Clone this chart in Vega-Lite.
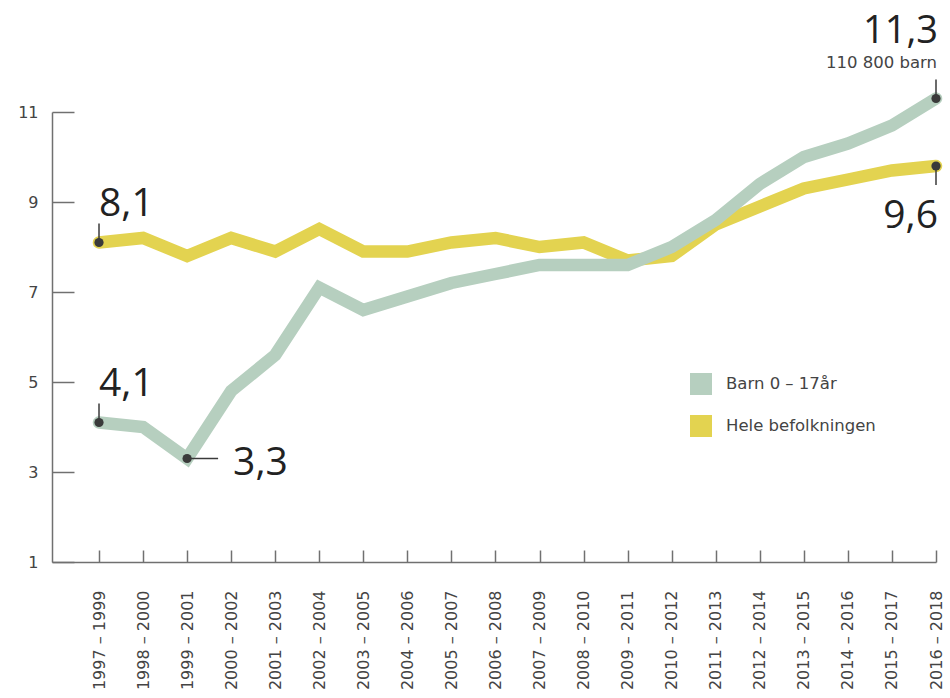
{
  "$schema": "https://vega.github.io/schema/vega-lite/v6.json",
  "width": 884,
  "height": 450,
  "autosize": {"type": "none"},
  "padding": {"left": 52, "top": 112, "right": 14, "bottom": 136},
  "background": "#ffffff",
  "config": {
    "view": {"stroke": null},
    "axis": {
      "domainColor": "#707070",
      "domainWidth": 1.5,
      "tickColor": "#707070",
      "tickWidth": 1.5,
      "grid": false,
      "labelColor": "#444444",
      "labelFont": "DejaVu Sans",
      "labelFontSize": 16,
      "title": null
    },
    "legend": {
      "labelFont": "DejaVu Sans",
      "labelFontSize": 16.5,
      "labelColor": "#444444"
    }
  },
  "datasets": {
    "series": [
      {"period": "1997 – 1999", "serie": "Barn 0 – 17år", "value": 4.1},
      {"period": "1998 – 2000", "serie": "Barn 0 – 17år", "value": 4.0},
      {"period": "1999 – 2001", "serie": "Barn 0 – 17år", "value": 3.3},
      {"period": "2000 – 2002", "serie": "Barn 0 – 17år", "value": 4.8},
      {"period": "2001 – 2003", "serie": "Barn 0 – 17år", "value": 5.6},
      {"period": "2002 – 2004", "serie": "Barn 0 – 17år", "value": 7.1},
      {"period": "2003 – 2005", "serie": "Barn 0 – 17år", "value": 6.6},
      {"period": "2004 – 2006", "serie": "Barn 0 – 17år", "value": 6.9},
      {"period": "2005 – 2007", "serie": "Barn 0 – 17år", "value": 7.2},
      {"period": "2006 – 2008", "serie": "Barn 0 – 17år", "value": 7.4},
      {"period": "2007 – 2009", "serie": "Barn 0 – 17år", "value": 7.6},
      {"period": "2008 – 2010", "serie": "Barn 0 – 17år", "value": 7.6},
      {"period": "2009 – 2011", "serie": "Barn 0 – 17år", "value": 7.6},
      {"period": "2010 – 2012", "serie": "Barn 0 – 17år", "value": 8.0},
      {"period": "2011 – 2013", "serie": "Barn 0 – 17år", "value": 8.6},
      {"period": "2012 – 2014", "serie": "Barn 0 – 17år", "value": 9.4},
      {"period": "2013 – 2015", "serie": "Barn 0 – 17år", "value": 10.0},
      {"period": "2014 – 2016", "serie": "Barn 0 – 17år", "value": 10.3},
      {"period": "2015 – 2017", "serie": "Barn 0 – 17år", "value": 10.7},
      {"period": "2016 – 2018", "serie": "Barn 0 – 17år", "value": 11.3},
      {"period": "1997 – 1999", "serie": "Hele befolkningen", "value": 8.1},
      {"period": "1998 – 2000", "serie": "Hele befolkningen", "value": 8.2},
      {"period": "1999 – 2001", "serie": "Hele befolkningen", "value": 7.8},
      {"period": "2000 – 2002", "serie": "Hele befolkningen", "value": 8.2},
      {"period": "2001 – 2003", "serie": "Hele befolkningen", "value": 7.9},
      {"period": "2002 – 2004", "serie": "Hele befolkningen", "value": 8.4},
      {"period": "2003 – 2005", "serie": "Hele befolkningen", "value": 7.9},
      {"period": "2004 – 2006", "serie": "Hele befolkningen", "value": 7.9},
      {"period": "2005 – 2007", "serie": "Hele befolkningen", "value": 8.1},
      {"period": "2006 – 2008", "serie": "Hele befolkningen", "value": 8.2},
      {"period": "2007 – 2009", "serie": "Hele befolkningen", "value": 8.0},
      {"period": "2008 – 2010", "serie": "Hele befolkningen", "value": 8.1},
      {"period": "2009 – 2011", "serie": "Hele befolkningen", "value": 7.7},
      {"period": "2010 – 2012", "serie": "Hele befolkningen", "value": 7.8},
      {"period": "2011 – 2013", "serie": "Hele befolkningen", "value": 8.5},
      {"period": "2012 – 2014", "serie": "Hele befolkningen", "value": 8.9},
      {"period": "2013 – 2015", "serie": "Hele befolkningen", "value": 9.3},
      {"period": "2014 – 2016", "serie": "Hele befolkningen", "value": 9.5},
      {"period": "2015 – 2017", "serie": "Hele befolkningen", "value": 9.7},
      {"period": "2016 – 2018", "serie": "Hele befolkningen", "value": 9.8}
    ],
    "notes": [
      {"period": "1997 – 1999", "value": 8.1, "label": "8,1", "dir": "up", "pos": "a"},
      {"period": "1997 – 1999", "value": 4.1, "label": "4,1", "dir": "up", "pos": "a"},
      {"period": "1999 – 2001", "value": 3.3, "label": "3,3", "dir": "right", "pos": "r"},
      {"period": "2016 – 2018", "value": 11.3, "label": "11,3", "dir": "up", "pos": "t", "sub": "110 800 barn"},
      {"period": "2016 – 2018", "value": 9.8, "label": "9,6", "dir": "down", "pos": "b"}
    ]
  },
  "encoding": {
    "x": {
      "field": "period",
      "type": "ordinal",
      "scale": {"type": "point", "padding": 0.5335, "align": 1},
      "axis": {
        "labelAngle": -90,
        "tickSize": -12,
        "labelPadding": 40
      }
    },
    "y": {
      "field": "value",
      "type": "quantitative",
      "scale": {"domain": [1, 11], "nice": false, "zero": false},
      "axis": {
        "values": [1, 3, 5, 7, 9, 11],
        "tickSize": -22,
        "labelPadding": 36
      }
    }
  },
  "layer": [
    {
      "data": {"name": "series"},
      "transform": [{"filter": "datum.serie === 'Hele befolkningen'"}],
      "mark": {"type": "line", "strokeWidth": 12.5, "strokeJoin": "miter", "strokeCap": "round"},
      "encoding": {
        "color": {
          "field": "serie",
          "type": "nominal",
          "scale": {"domain": ["Barn 0 – 17år", "Hele befolkningen"], "range": ["#b6cfbf", "#e3d350"]},
          "legend": {
            "orient": "none",
            "legendX": 638,
            "legendY": 261,
            "title": null,
            "padding": 0,
            "symbolType": "square",
            "symbolSize": 121,
            "symbolStrokeWidth": 11,
            "symbolOpacity": 1,
            "labelOffset": 14,
            "rowPadding": -14
          }
        }
      }
    },
    {
      "data": {"name": "series"},
      "transform": [{"filter": "datum.serie === 'Barn 0 – 17år'"}],
      "mark": {"type": "line", "strokeWidth": 12.5, "strokeJoin": "miter", "strokeCap": "round"},
      "encoding": {
        "color": {"field": "serie", "type": "nominal"}
      }
    },
    {
      "data": {"name": "notes"},
      "mark": {"type": "point", "filled": false, "size": 4, "stroke": "#3a3a3a", "strokeWidth": 1.5, "opacity": 1},
      "encoding": {
        "shape": {
          "field": "dir",
          "type": "nominal",
          "scale": {"domain": ["up", "down", "right"], "range": ["M0,0L0,-19", "M0,0L0,19", "M0,0L31,0"]},
          "legend": null
        }
      }
    },
    {
      "data": {"name": "notes"},
      "mark": {"type": "circle", "size": 85, "color": "#3a3a3a", "opacity": 1}
    },
    {
      "data": {"name": "notes"},
      "transform": [{"filter": "datum.pos === 'a'"}],
      "mark": {"type": "text", "align": "left", "baseline": "alphabetic", "dx": 0, "dy": -27, "font": "Open Sans", "fontSize": 39, "color": "#222222"},
      "encoding": {"text": {"field": "label"}}
    },
    {
      "data": {"name": "notes"},
      "transform": [{"filter": "datum.pos === 'r'"}],
      "mark": {"type": "text", "align": "left", "baseline": "alphabetic", "dx": 46, "dy": 16, "font": "Open Sans", "fontSize": 39, "color": "#222222"},
      "encoding": {"text": {"field": "label"}}
    },
    {
      "data": {"name": "notes"},
      "transform": [{"filter": "datum.pos === 't'"}],
      "mark": {"type": "text", "align": "right", "baseline": "alphabetic", "dx": 2, "dy": -56, "font": "Open Sans", "fontSize": 38, "color": "#222222"},
      "encoding": {"text": {"field": "label"}}
    },
    {
      "data": {"name": "notes"},
      "transform": [{"filter": "datum.pos === 't'"}],
      "mark": {"type": "text", "align": "right", "baseline": "alphabetic", "dx": 1, "dy": -31, "font": "DejaVu Sans", "fontSize": 16.5, "color": "#444444"},
      "encoding": {"text": {"field": "sub"}}
    },
    {
      "data": {"name": "notes"},
      "transform": [{"filter": "datum.pos === 'b'"}],
      "mark": {"type": "text", "align": "right", "baseline": "alphabetic", "dx": 2, "dy": 62, "font": "Open Sans", "fontSize": 39, "color": "#222222"},
      "encoding": {"text": {"field": "label"}}
    }
  ]
}
